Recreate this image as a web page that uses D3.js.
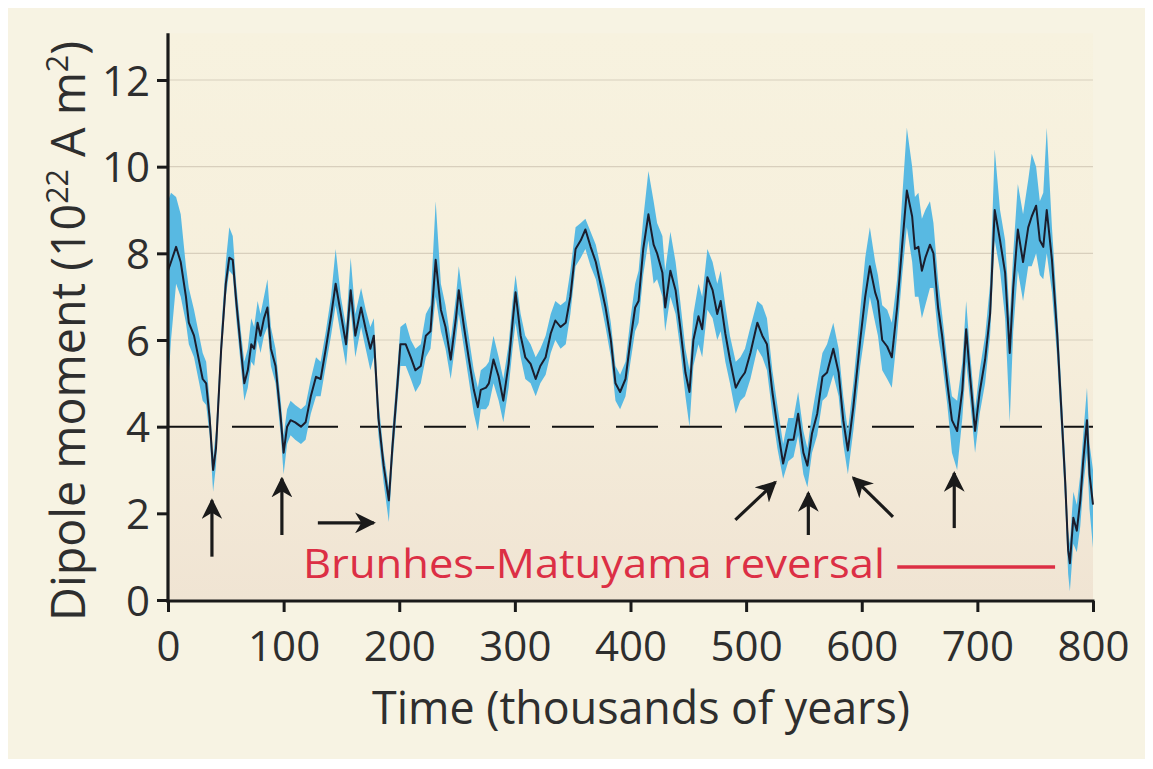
<!DOCTYPE html>
<html>
<head>
<meta charset="utf-8">
<style>
  body { margin: 0; background: #ffffff; }
  svg { display: block; }
  text { font-family: "Open Sans", Lato, sans-serif; fill: #2e2e2e; }
</style>
</head>
<body>
<div id="chart"></div>
<script src="https://cdn.jsdelivr.net/npm/d3@7"></script>
<script>
// time in thousands of years, dipole moment in 10^22 A m^2
const years = [0, 2.6, 7, 11, 15.5, 18, 22.5, 27, 30, 33, 36, 39, 41.5, 46, 50, 53, 56, 59, 63, 66, 69, 72, 74.5, 77.5, 80, 83, 86, 89, 93, 97.5,
  100, 103, 106, 110, 115, 119, 123.5, 128, 132, 136.5, 141, 145, 149.5, 154, 158, 162, 167, 171, 175, 178, 182, 186.5, 191, 194, 198.5,
  201, 205.6, 210, 214, 218.6, 223, 227, 231.5, 236, 240, 244.5, 249, 251.5, 256, 260, 264.5, 268, 270.5, 275, 277.5, 281.5, 286, 290, 294.6, 298,
  300.6, 305, 309, 313.6, 318, 322, 326.6, 331, 335, 339.5, 344, 348, 352.5, 357, 361, 365.5, 370, 374, 378.4, 383, 387, 391, 395.7,
  400, 404, 407, 411, 415.5, 420, 423, 427.6, 430, 434.5, 439, 443, 447.5, 451, 454.4, 458.8, 462, 466.5, 471, 475, 478, 482, 486, 491, 495, 499,
  503.7, 509.7, 514, 518, 522.7, 527, 532, 536.5, 541, 545, 549.5, 553, 557, 561.5, 566, 570, 575.4, 580, 584, 588, 592.7, 598.7,
  603, 607, 611.6, 614, 617.7, 622, 626, 630.6, 635, 639, 643.6, 646, 649, 652, 655, 659, 662, 666, 669.5, 674, 678, 682.5, 687, 690.3, 693.7, 698,
  702, 706.7, 711, 715, 719.6, 724, 728, 731, 735, 739.5, 744, 747, 750.8, 754, 757, 760, 764.5, 769, 773, 776, 778.5, 780, 783, 786, 789, 791.5, 794.8, 797, 800];

const moment = [7.6, 7.8, 8.15, 7.8, 7.0, 6.4, 6.1, 5.5, 5.1, 5.0, 4.2, 3.0, 3.5, 5.8, 7.3, 7.9, 7.85, 6.9, 5.8, 5.0, 5.3, 5.9, 5.8, 6.4, 6.1, 6.5, 6.75, 5.8, 5.4, 4.2,
  3.4, 4.0, 4.15, 4.1, 4.0, 4.1, 4.7, 5.15, 5.1, 5.8, 6.55, 7.3, 6.6, 5.9, 7.15, 6.1, 6.75, 6.25, 5.8, 6.1, 4.2, 3.1, 2.3, 3.5, 5.0,
  5.9, 5.9, 5.6, 5.3, 5.4, 6.1, 6.2, 7.85, 6.7, 6.3, 5.55, 6.5, 7.15, 6.3, 5.6, 4.85, 4.45, 4.85, 4.9, 5.0, 5.55, 5.15, 4.6, 5.45, 6.4,
  7.1, 6.1, 5.6, 5.45, 5.1, 5.4, 5.6, 6.15, 6.45, 6.3, 6.4, 7.0, 8.1, 8.3, 8.55, 8.15, 7.8, 7.3, 6.75, 6.0, 5.0, 4.8, 5.1,
  6.0, 6.75, 6.9, 8.1, 8.9, 8.2, 8.0, 7.55, 6.75, 7.6, 7.15, 6.3, 5.25, 4.8, 6.0, 6.55, 6.25, 7.45, 7.15, 6.6, 6.9, 6.15, 5.55, 4.9, 5.1, 5.25,
  5.7, 6.4, 6.1, 5.9, 4.8, 4.0, 3.15, 3.7, 3.7, 4.3, 3.4, 3.1, 3.85, 4.3, 5.15, 5.25, 5.8, 5.25, 4.15, 3.45, 4.45, 6.0,
  7.0, 7.7, 7.1, 6.9, 6.0, 5.85, 5.6, 6.75, 8.2, 9.45, 8.85, 8.1, 8.15, 7.6, 7.9, 8.2, 8.0, 6.75, 6.1, 5.0, 4.15, 3.9, 4.85, 6.25, 5.15, 3.9,
  4.8, 5.55, 6.6, 9.0, 8.3, 7.55, 5.7, 7.2, 8.55, 7.8, 8.6, 8.85, 9.1, 8.3, 8.15, 9.0, 7.85, 6.15, 4.2, 2.7, 1.15, 0.85, 1.9, 1.6, 2.3, 3.2, 4.15, 2.9, 2.2];

const upper = [9.2, 9.4, 9.3, 8.9, 7.7, 7.2, 6.7, 6.1, 5.7, 5.5, 4.6, 3.3, 3.9, 6.2, 7.8, 8.6, 8.4, 7.3, 6.2, 5.5, 5.8, 6.5, 6.3, 6.9, 6.6, 7.0, 7.4, 6.3, 5.8, 4.6,
  3.8, 4.4, 4.6, 4.5, 4.4, 4.5, 5.1, 5.6, 5.5, 6.2, 7.0, 8.1, 7.0, 6.3, 7.9, 6.6, 7.2, 6.7, 6.3, 6.5, 4.6, 3.4, 2.6, 3.9, 5.4,
  6.3, 6.4, 6.0, 5.8, 5.9, 6.6, 6.8, 9.2, 7.3, 6.8, 6.0, 7.0, 7.7, 6.8, 6.1, 5.3, 4.9, 5.3, 5.4, 5.5, 6.1, 5.6, 5.1, 5.9, 6.9,
  7.5, 6.6, 6.1, 5.9, 5.6, 5.8, 6.1, 6.6, 6.9, 6.8, 6.9, 7.6, 8.6, 8.7, 8.8, 8.5, 8.2, 7.7, 7.2, 6.4, 5.4, 5.2, 5.5,
  6.5, 7.3, 7.6, 8.8, 9.9, 9.2, 8.7, 8.4, 7.6, 8.5, 7.8, 6.9, 5.8, 5.3, 6.6, 7.3, 7.0, 8.1, 7.8, 7.3, 7.6, 6.8, 6.1, 5.5, 5.6, 5.8,
  6.3, 6.9, 6.8, 6.5, 5.3, 4.5, 3.6, 4.2, 4.2, 4.8, 3.9, 3.5, 4.3, 5.0, 5.7, 5.9, 6.4, 5.8, 4.7, 3.9, 5.0, 6.7,
  7.9, 8.6, 7.8, 7.5, 6.8, 6.7, 6.4, 7.4, 9.3, 10.9, 10.0, 9.3, 9.4, 8.8, 9.0, 9.2, 8.7, 7.4, 6.6, 5.5, 4.7, 4.6, 5.5, 6.9, 5.7, 4.4,
  5.3, 6.1, 7.3, 10.4, 9.0, 8.3, 6.5, 8.0, 9.6, 8.9, 9.7, 10.3, 10.0, 9.2, 9.4, 10.9, 8.6, 6.7, 4.7, 3.2, 1.6, 1.3, 2.5, 2.2, 2.9, 3.8, 4.9, 3.6, 3.0];

const lower = [4.9, 6.0, 7.3, 7.0, 6.4, 5.9, 5.6, 5.0, 4.6, 4.5, 3.8, 2.5, 3.1, 5.5, 7.0, 7.6, 7.5, 6.5, 5.4, 4.6, 4.9, 5.5, 5.4, 6.0, 5.7, 6.1, 6.3, 5.4, 5.0, 3.8,
  2.9, 3.6, 3.8, 3.7, 3.6, 3.7, 4.3, 4.7, 4.7, 5.4, 6.1, 6.8, 6.1, 5.4, 6.7, 5.6, 6.3, 5.8, 5.3, 5.6, 3.8, 2.7, 1.8, 3.1, 4.6,
  5.4, 5.4, 5.1, 4.8, 5.0, 5.6, 5.8, 7.0, 6.2, 5.8, 5.1, 6.0, 6.6, 5.8, 5.1, 4.3, 3.9, 4.4, 4.4, 4.5, 5.0, 4.6, 4.1, 4.9, 5.8,
  6.4, 5.6, 5.1, 5.0, 4.7, 5.0, 5.2, 5.7, 6.0, 5.8, 5.9, 6.6, 7.7, 7.9, 8.1, 7.7, 7.4, 6.9, 6.3, 5.6, 4.6, 4.4, 4.7,
  5.5, 6.2, 6.4, 7.5, 8.3, 7.3, 7.4, 7.0, 6.2, 7.0, 6.6, 5.8, 4.7, 4.0, 5.4, 5.9, 5.6, 6.7, 6.5, 6.0, 6.2, 5.5, 5.0, 4.3, 4.6, 4.7,
  5.1, 5.8, 5.6, 5.3, 4.3, 3.5, 2.8, 3.2, 3.3, 3.8, 2.9, 2.6, 3.4, 3.8, 4.6, 4.7, 5.2, 4.7, 3.6, 2.9, 3.9, 5.4,
  6.2, 7.0, 6.4, 6.1, 5.3, 5.1, 4.9, 6.1, 7.5, 8.6, 7.8, 7.0, 7.0, 6.5, 6.8, 7.2, 7.2, 6.1, 5.5, 4.5, 3.4, 3.0, 4.2, 5.5, 4.6, 3.4,
  4.3, 5.0, 6.1, 8.3, 7.6, 6.5, 4.1, 6.2, 7.6, 6.9, 7.7, 7.7, 8.0, 7.5, 7.4, 8.0, 7.1, 5.6, 3.7, 2.2, 0.6, 0.2, 1.3, 1.1, 1.7, 2.6, 3.4, 2.1, 1.2];

const xTicks = [0, 100, 200, 300, 400, 500, 600, 700, 800];
const yTicks = [0, 2, 4, 6, 8, 10, 12];
const gridValues = [6, 8, 10, 12];
const threshold = 4;

// arrows marking field lows: [x1, y1, x2, y2] in data units, tail -> head
const arrows = [
  [38, 1.0, 38, 2.3],
  [98.5, 1.5, 98.5, 2.8],
  [129.6, 1.78, 178, 1.78],
  [490.7, 1.85, 525.3, 2.72],
  [553.8, 1.5, 553.8, 2.47],
  [627, 1.92, 592.7, 2.82],
  [680, 1.66, 680, 2.93]
];

const reversalLabel = 'Brunhes\u2013Matuyama reversal';
const reversalSpan = [630.7, 767.2, 0.76];

const width = 1153, height = 769;

const svg = d3.select('#chart')
  .append('svg')
  .attr('width', width)
  .attr('height', height);

const defs = svg.append('defs');
const plotGrad = defs.append('linearGradient')
  .attr('id', 'plotbg')
  .attr('x1', 0).attr('y1', 0).attr('x2', 0).attr('y2', 1);
plotGrad.append('stop').attr('offset', '0%').attr('stop-color', '#f7f2df');
plotGrad.append('stop').attr('offset', '50%').attr('stop-color', '#f6efdc');
plotGrad.append('stop').attr('offset', '100%').attr('stop-color', '#f0e4d3');

defs.append('marker')
  .attr('id', 'head')
  .attr('viewBox', '0 0 10 10')
  .attr('refX', 9)
  .attr('refY', 5)
  .attr('markerWidth', 6.5)
  .attr('markerHeight', 6.5)
  .attr('markerUnits', 'strokeWidth')
  .attr('orient', 'auto')
  .append('path')
  .attr('d', 'M0,0 L10,5 L0,10 L3,5 Z')
  .attr('fill', '#1a1a1a');

// page background
svg.append('rect')
  .attr('x', 8).attr('y', 8)
  .attr('width', width - 16).attr('height', height - 18)
  .attr('fill', '#f7f3e3');

const x = d3.scaleLinear().domain([0, 800]).range([168, 1093]);
const y = d3.scaleLinear().domain([0, 12]).range([600, 80]);

svg.append('rect')
  .attr('x', x(0)).attr('y', y(13.08))
  .attr('width', x(800) - x(0)).attr('height', y(0) - y(13.08))
  .attr('fill', 'url(#plotbg)');

svg.append('g')
  .selectAll('line')
  .data(gridValues)
  .join('line')
  .attr('x1', x(0)).attr('x2', x(800))
  .attr('y1', d => y(d)).attr('y2', d => y(d))
  .attr('stroke', '#d8cfbd')
  .attr('stroke-width', 1.2);

const series = years.map((t, i) => ({ t: t, v: moment[i], hi: upper[i], lo: lower[i] }));

const band = d3.area()
  .x(d => x(d.t))
  .y0(d => y(d.lo))
  .y1(d => y(d.hi));

const line = d3.line()
  .x(d => x(d.t))
  .y(d => y(d.v));

svg.append('line')
  .attr('x1', x(0)).attr('x2', x(800))
  .attr('y1', y(threshold)).attr('y2', y(threshold))
  .attr('stroke', '#111')
  .attr('stroke-width', 2)
  .attr('stroke-dasharray', '42,22');

svg.append('path')
  .datum(series)
  .attr('d', band)
  .attr('fill', '#58b9e2');

svg.append('path')
  .datum(series)
  .attr('d', line)
  .attr('fill', 'none')
  .attr('stroke', '#1b1d2c')
  .attr('stroke-width', 2)
  .attr('stroke-linejoin', 'round');

// arrows
svg.append('g')
  .selectAll('line')
  .data(arrows)
  .join('line')
  .attr('x1', d => x(d[0])).attr('y1', d => y(d[1]))
  .attr('x2', d => x(d[2])).attr('y2', d => y(d[3]))
  .attr('stroke', '#1a1a1a')
  .attr('stroke-width', 3.2)
  .attr('marker-end', 'url(#head)');

// reversal label
svg.append('text')
  .attr('x', 303)
  .attr('y', 578)
  .attr('font-size', 40)
  .attr('textLength', 582)
  .attr('lengthAdjust', 'spacingAndGlyphs')
  .style('fill', '#dc2f45')
  .text(reversalLabel);

svg.append('line')
  .attr('x1', x(reversalSpan[0])).attr('x2', x(reversalSpan[1]))
  .attr('y1', y(reversalSpan[2])).attr('y2', y(reversalSpan[2]))
  .attr('stroke', '#dc2f45')
  .attr('stroke-width', 3.5);

// axes
const xAxis = d3.axisBottom(x).tickValues(xTicks).tickSize(11).tickSizeOuter(0).tickPadding(19);
const yAxis = d3.axisLeft(y).tickValues(yTicks).tickSize(11).tickSizeOuter(0).tickPadding(7);

const gx = svg.append('g')
  .attr('transform', `translate(0, ${y(0) + 1})`)
  .call(xAxis);
const gy = svg.append('g')
  .attr('transform', `translate(${x(0)}, 0)`)
  .call(yAxis);

[gx, gy].forEach(g => {
  g.select('.domain').remove();
  g.selectAll('.tick line').attr('stroke', '#1a1a1a').attr('stroke-width', 3);
  g.selectAll('.tick text')
    .attr('font-size', 42)
    .style('font-family', '"Open Sans", sans-serif')
    .style('fill', '#2e2e2e');
});
gy.selectAll('.tick text').attr('dy', '0.36em');

svg.append('line')
  .attr('x1', x(0)).attr('x2', x(0))
  .attr('y1', y(13.08)).attr('y2', y(0) + 2.5)
  .attr('stroke', '#1a1a1a').attr('stroke-width', 3.2);
svg.append('line')
  .attr('x1', x(0) - 1.5).attr('x2', x(800) + 1.5)
  .attr('y1', y(0) + 1).attr('y2', y(0) + 1)
  .attr('stroke', '#1a1a1a').attr('stroke-width', 3.2);

// axis titles, scaled to the width they take in the original figure
function fitFont(sel, target, base) {
  const w = sel.node().getBBox().width;
  return base * target / w;
}

const xTitle = svg.append('text')
  .attr('x', 641)
  .attr('y', 724)
  .attr('text-anchor', 'middle')
  .attr('font-size', 40)
  .text('Time (thousands of years)');
xTitle.attr('font-size', fitFont(xTitle, 538, 40));

const yTitle = svg.append('text')
  .attr('transform', 'translate(85, 331) rotate(-90)')
  .attr('text-anchor', 'middle')
  .attr('font-size', 40);
yTitle.append('tspan').text('Dipole moment (10');
yTitle.append('tspan').attr('class', 'sup').attr('font-size', 26).attr('dy', -15).text('22');
yTitle.append('tspan').attr('class', 'base').attr('dy', 15).text(' A m');
yTitle.append('tspan').attr('class', 'sup').attr('font-size', 26).attr('dy', -15).text('2');
yTitle.append('tspan').attr('class', 'base').attr('dy', 15).text(')');
const ys = fitFont(yTitle, 580, 40) / 40;
yTitle.attr('font-size', 40 * ys);
yTitle.selectAll('tspan.sup').attr('font-size', 26 * ys).attr('dy', -15 * ys);
yTitle.selectAll('tspan.base').attr('dy', 15 * ys);
</script>
</body>
</html>
